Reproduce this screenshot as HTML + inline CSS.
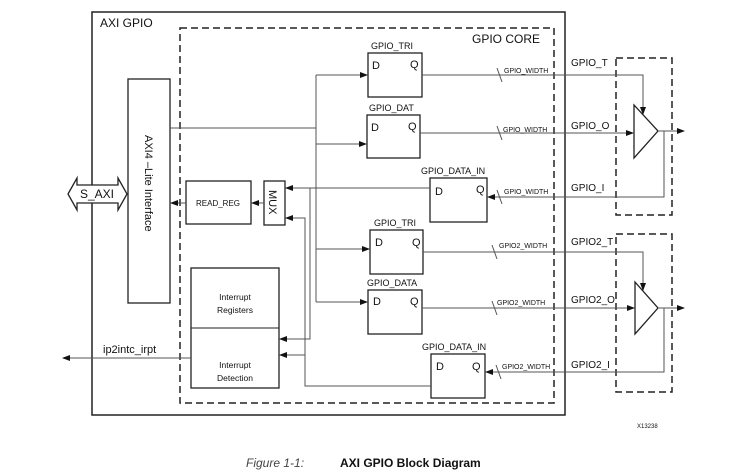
<!DOCTYPE html>
<html><head><style>
body{margin:0;background:#fff;width:752px;height:473px;overflow:hidden}
svg{display:block}
text{font-family:"Liberation Sans",Arial,sans-serif;fill:#111}
</style></head><body>
<svg width="752" height="473" viewBox="0 0 752 473">
<defs>
<marker id="a" markerWidth="8" markerHeight="6" refX="7" refY="3" orient="auto" markerUnits="userSpaceOnUse"><path d="M0,0L8,3L0,6z" fill="#111"/></marker>
</defs>
<g fill="none" stroke="#222">
<rect x="92" y="12" width="473" height="403" stroke-width="1.5"/>
<rect x="180" y="28" width="374" height="375" stroke-dasharray="7,4" stroke-width="1.5"/>
<rect x="616" y="58" width="56" height="157" stroke-dasharray="7,4" stroke-width="1.5"/>
<rect x="616" y="234" width="56" height="158" stroke-dasharray="7,4" stroke-width="1.5"/>
<rect x="128" y="79" width="42" height="224" stroke-width="1.3"/>
<rect x="186" y="181" width="65" height="43" stroke-width="1.3"/>
<rect x="264" y="181" width="21" height="44" stroke-width="1.3"/>
<rect x="191" y="268" width="88" height="120" stroke-width="1.3"/>
<line x1="191" y1="328" x2="279" y2="328"/>
<rect x="368" y="53" width="54" height="44" stroke-width="1.3"/>
<rect x="367" y="115" width="53" height="43" stroke-width="1.3"/>
<rect x="430" y="178" width="57" height="44" stroke-width="1.3"/>
<rect x="370" y="230" width="53" height="44" stroke-width="1.3"/>
<rect x="368" y="290" width="54" height="44" stroke-width="1.3"/>
<rect x="431" y="354" width="54" height="44" stroke-width="1.3"/>
<path d="M634,105L658,131L634,158z" stroke-width="1.3"/>
<path d="M635,282L658,308L635,334z" stroke-width="1.3"/>
</g>
<g fill="none" stroke="#555" stroke-width="1">
<line x1="170" y1="128" x2="316" y2="128"/>
<line x1="316" y1="75" x2="316" y2="302"/>
<line x1="316" y1="75" x2="367" y2="75" marker-end="url(#a)"/>
<line x1="316" y1="144" x2="366" y2="144" marker-end="url(#a)"/>
<line x1="316" y1="249" x2="369" y2="249" marker-end="url(#a)"/>
<line x1="316" y1="302" x2="367" y2="302" marker-end="url(#a)"/>
<line x1="430" y1="188" x2="286" y2="188" marker-end="url(#a)"/>
<polyline points="310,188 310,339 280,339" marker-end="url(#a)"/>
<polyline points="431,386 305,386 305,218 286,218" marker-end="url(#a)"/>
<line x1="305" y1="355" x2="280" y2="355" marker-end="url(#a)"/>
<line x1="264" y1="203" x2="252" y2="203" marker-end="url(#a)"/>
<line x1="186" y1="203" x2="171" y2="203" marker-end="url(#a)"/>
<line x1="191" y1="358" x2="63" y2="358" marker-end="url(#a)"/>
<polyline points="422,75 643,75 643,114" marker-end="url(#a)"/>
<line x1="420" y1="133" x2="633" y2="133" marker-end="url(#a)"/>
<polyline points="664,131 664,197 488,197" marker-end="url(#a)"/>
<line x1="658" y1="131" x2="684" y2="131" marker-end="url(#a)"/>
<polyline points="423,252 643,252 643,290" marker-end="url(#a)"/>
<line x1="422" y1="308" x2="634" y2="308" marker-end="url(#a)"/>
<polyline points="664,308 664,372 486,372" marker-end="url(#a)"/>
<line x1="658" y1="308" x2="684" y2="308" marker-end="url(#a)"/>
<line x1="497" y1="68" x2="502" y2="82"/>
<line x1="497" y1="126" x2="502" y2="140"/>
<line x1="497" y1="190" x2="502" y2="204"/>
<line x1="492" y1="245" x2="497" y2="259"/>
<line x1="492" y1="301" x2="497" y2="315"/>
<line x1="496" y1="365" x2="501" y2="379"/>
</g>
<path d="M68,194L77,178V185H118V178L127,194L118,210V203H77V210z" fill="#fff" stroke="#222" stroke-width="1.3"/>
<text x="80" y="198" font-size="12">S_AXI</text>
<text x="100" y="27" font-size="12">AXI GPIO</text>
<text x="472" y="43" font-size="12">GPIO CORE</text>
<text transform="translate(145,135) rotate(90)" font-size="11">AXI4 –Lite Interface</text>
<text x="196" y="206" font-size="8">READ_REG</text>
<text transform="translate(269,190) rotate(90)" font-size="11">MUX</text>
<text x="235" y="300" font-size="8.5" text-anchor="middle">Interrupt</text>
<text x="235" y="313" font-size="8.5" text-anchor="middle">Registers</text>
<text x="235" y="368" font-size="8.5" text-anchor="middle">Interrupt</text>
<text x="235" y="381" font-size="8.5" text-anchor="middle">Detection</text>
<text x="103" y="353" font-size="11">ip2intc_irpt</text>
<g font-size="9">
<text x="371" y="49">GPIO_TRI</text>
<text x="369" y="111">GPIO_DAT</text>
<text x="421" y="174">GPIO_DATA_IN</text>
<text x="374" y="226">GPIO_TRI</text>
<text x="367" y="286">GPIO_DATA</text>
<text x="422" y="350">GPIO_DATA_IN</text>
</g>
<g font-size="11">
<text x="372" y="69">D</text><text x="410" y="68">Q</text>
<text x="371" y="131">D</text><text x="408" y="130">Q</text>
<text x="435" y="195">D</text><text x="476" y="193">Q</text>
<text x="375" y="246">D</text><text x="412" y="246">Q</text>
<text x="373" y="305">D</text><text x="410" y="305">Q</text>
<text x="436" y="370">D</text><text x="472" y="370">Q</text>
</g>
<g font-size="7">
<text x="504" y="73">GPIO_WIDTH</text>
<text x="503" y="132">GPIO_WIDTH</text>
<text x="504" y="194">GPIO_WIDTH</text>
<text x="499" y="248">GPIO2_WIDTH</text>
<text x="497" y="305">GPIO2_WIDTH</text>
<text x="502" y="369">GPIO2_WIDTH</text>
</g>
<g font-size="10">
<text x="571" y="66">GPIO_T</text>
<text x="571" y="129">GPIO_O</text>
<text x="571" y="191">GPIO_I</text>
<text x="571" y="245">GPIO2_T</text>
<text x="571" y="303">GPIO2_O</text>
<text x="571" y="368">GPIO2_I</text>
</g>
<text x="637" y="428" font-size="6">X13238</text>
<text x="246" y="467" font-size="12" font-style="italic" style="fill:#444">Figure 1-1:</text>
<text x="340" y="467" font-size="12" font-weight="bold">AXI GPIO Block Diagram</text>
</svg>
</body></html>
